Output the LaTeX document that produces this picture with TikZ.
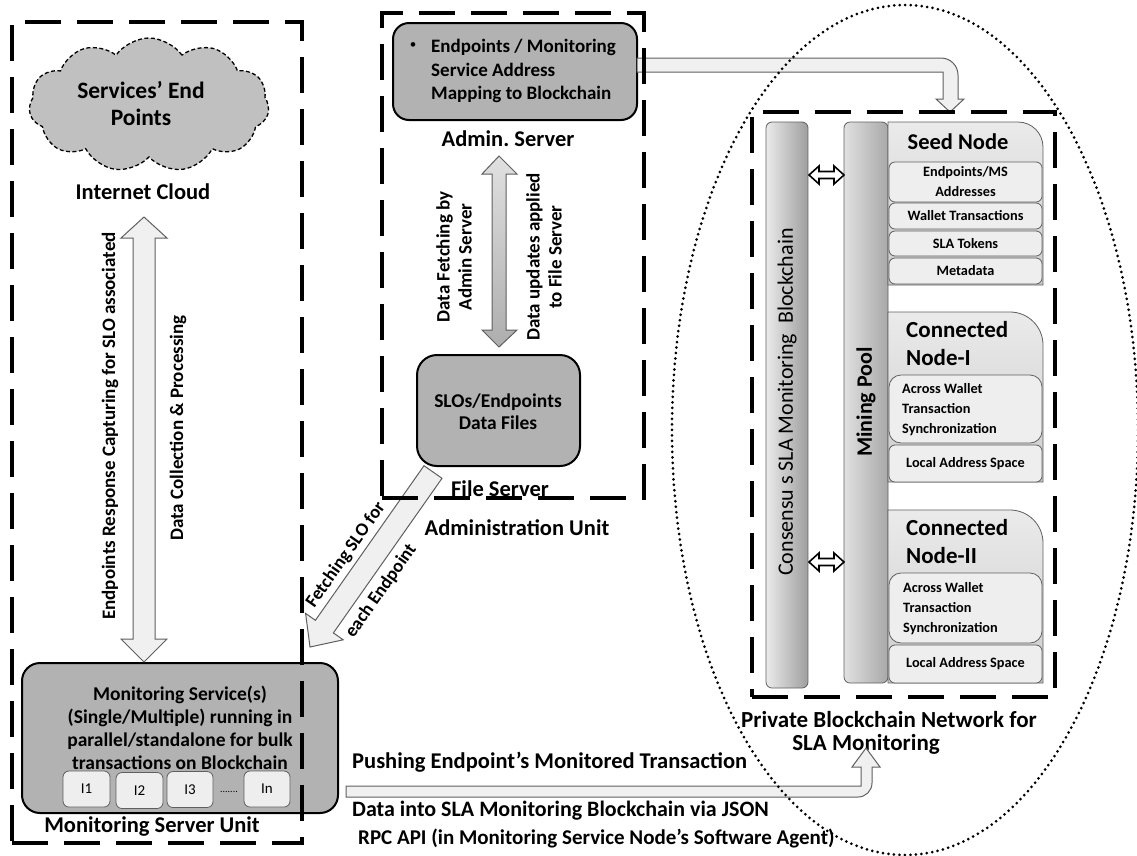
\documentclass[tikz,border=0pt]{standalone}
\usepackage{fontspec}
\setmainfont{Carlito}
\usetikzlibrary{shapes.symbols}
\definecolor{boxgray}{RGB}{178,178,178}
\definecolor{cloudgray}{RGB}{192,192,192}
\definecolor{subgray}{RGB}{238,238,238}
\definecolor{arrowfill}{RGB}{240,240,240}
\definecolor{arrowline}{RGB}{95,95,95}
\tikzset{
  unitbox/.style={draw=black, line width=3.5pt, dash pattern=on 36pt off 16pt, fill=none, inner sep=0pt},
  grayrbox/.style={draw=black, line width=2pt, fill=boxgray, rounded corners=18pt, inner sep=0pt},
  blockarrow/.style={draw=arrowline, fill=arrowfill, line width=1pt},
  subbox/.style={draw=arrowline, fill=subgray, line width=0.8pt, rounded corners=6pt, inner sep=0pt},
  panel/.style={draw=arrowline, line width=0.8pt, top color=white!92!black, bottom color=white!80!black},
  bar/.style={draw=arrowline, line width=0.8pt, rounded corners=6pt, inner sep=0pt},
  outarrow/.style={draw=black, fill=white, line width=1.6pt},
  dotellipse/.style={draw=black, line width=3pt, dash pattern=on 0pt off 5.5pt, line cap=round},
  t/.style={font=\bfseries\fontsize{#1}{#1}\selectfont, inner sep=0pt},
  tl/.style 2 args={font=\bfseries\fontsize{#1}{#2}\selectfont, inner sep=0pt, align=center},
}
\begin{document}
\begin{tikzpicture}[x=1pt,y=-1pt]
\path[use as bounding box] (0,0) rectangle (1137,855);

% ---------------- left unit ----------------
\node[cloud, cloud puffs=11, cloud puff arc=110, aspect=1.8, draw=black, line width=1.3pt,
      dash pattern=on 4pt off 2.5pt, fill=cloudgray, minimum width=240pt, minimum height=134pt, inner sep=0pt]
      (cloud) at (149,105) {};
\node[tl={23.5}{27}] (cloudtxt) at (141,104) {Services’ End\\Points};
\node[t=22.5] (inet) at (143,192) {Internet Cloud};

\node[grayrbox, minimum width=316pt, minimum height=150pt] (ms) at (180,738) {};
\node[tl={19.5}{23}] (mstxt) at (180,728) {Monitoring Service(s)\\(Single/Multiple) running in\\parallel/standalone for bulk\\transactions on Blockchain};
\node[subbox, minimum width=47pt, minimum height=36pt, font=\fontsize{15}{15}\selectfont] (i1) at (86.5,789) {I1};
\node[subbox, minimum width=47pt, minimum height=36pt, font=\fontsize{15}{15}\selectfont] (i2) at (139.5,790.5) {I2};
\node[subbox, minimum width=46pt, minimum height=36pt, font=\fontsize{15}{15}\selectfont] (i3) at (190,789.5) {I3};
\node[subbox, minimum width=46pt, minimum height=36pt, font=\fontsize{15}{15}\selectfont] (in) at (267,789) {In};
\node[font=\fontsize{10}{10}\selectfont, inner sep=0pt] (dots) at (229,792) {.......};
\node[t=22.5] (msu) at (152,826) {Monitoring Server Unit};

% left double arrow
\draw[blockarrow] (144,217) -- (167,238) -- (155,238) -- (155,639) -- (167,639) -- (144,662)
  -- (121,639) -- (133,639) -- (133,238) -- (121,238) -- cycle;
\node[t=19, rotate=90] (lbl1) at (110,426) {Endpoints Response Capturing for SLO associated};
\node[t=19, rotate=90] (lbl2) at (178,428) {Data Collection \& Processing};

% ---------------- administration unit ----------------
\node[grayrbox, rounded corners=16pt, minimum width=244pt, minimum height=97pt] (admin) at (515,71.5) {};
\node[font=\fontsize{13}{13}\selectfont, inner sep=0pt] (bul) at (413,46) {•};
\node[tl={19}{23.5}, align=left, anchor=west] (admintxt) at (431,71) {Endpoints / Monitoring\\Service Address\\Mapping to Blockchain};
\node[t=22.5] (adminlbl) at (508,139) {Admin.\ Server};

\path[draw=arrowline, line width=1pt, top color=white!88!black, bottom color=white!68!black]
  (499,156) -- (517,174) -- (506,174) -- (506,330) -- (517,330) -- (499,347)
  -- (482,330) -- (492,330) -- (492,174) -- (482,174) -- cycle;
\node[tl={19}{22}, rotate=90] (fetchlbl) at (454,257) {Data Fetching by\\Admin Server};
\node[tl={19}{22}, rotate=90] (updlbl) at (544,257) {Data updates applied\\to File Server};

\node[grayrbox, rounded corners=20pt, minimum width=163pt, minimum height=111pt] (slo) at (498.5,410.5) {};
\node[tl={19.5}{22}] (slotxt) at (498,412) {SLOs/Endpoints\\Data Files};
\node[t=22.5] (fs) at (500,489) {File Server};
\node[t=22.5] (adu) at (517,528) {Administration Unit};

% diagonal arrow
\draw[blockarrow] (424,465.7) -- (315.4,620.3) -- (305.6,613.4) -- (310,647) -- (343.2,639.8)
  -- (333.4,632.9) -- (442,478.3) -- cycle;
\node[t=18.5, rotate=54.9] (fetchslo) at (346,555) {Fetching SLO for};
\node[t=18.5, rotate=54.9] (eachep) at (381,591) {each Endpoint};

% ---------------- blockchain network ----------------
\node[bar, left color=white!92!black, right color=white!62!black, minimum width=42pt, minimum height=566pt] (cons) at (787,405) {};
\node[font=\fontsize{22}{22}\selectfont, inner sep=0pt, rotate=90] (constxt) at (787,402) {Consensu s SLA Monitoring\hspace{5pt} Blockchain};
\node[bar, left color=white!88!black, right color=white!66!black, minimum width=44pt, minimum height=561pt] (pool) at (866,402.5) {};
\node[t=22, rotate=90] (pooltxt) at (866,402) {Mining Pool};

\draw[outarrow] (809,175) -- (819,166) -- (819,171.5) -- (834,171.5) -- (834,166) -- (844,175)
  -- (834,184) -- (834,178.5) -- (819,178.5) -- (819,184) -- cycle;
\draw[outarrow] (809,562) -- (819,553) -- (819,558.5) -- (834,558.5) -- (834,553) -- (844,562)
  -- (834,571) -- (834,565.5) -- (819,565.5) -- (819,571) -- cycle;

% seed node panel
\path[panel] (888,285) -- (888,122) -- (1018,122) arc[start angle=-90,end angle=0,radius=25] -- (1043,285) -- cycle;
\node[t=22.5] (seed) at (958,142) {Seed Node};
\node[subbox, minimum width=153pt, minimum height=40pt] (epms) at (965.5,182) {};
\node[tl={14.3}{20}] at (965.5,182) {Endpoints/MS\\Addresses};
\node[subbox, minimum width=153pt, minimum height=26pt, font=\bfseries\fontsize{14.3}{14.3}\selectfont] (wallet) at (965.5,216) {Wallet Transactions};
\node[subbox, minimum width=153pt, minimum height=25pt, font=\bfseries\fontsize{14.3}{14.3}\selectfont] (tokens) at (965.5,243.5) {SLA Tokens};
\node[subbox, minimum width=153pt, minimum height=26pt, font=\bfseries\fontsize{14.3}{14.3}\selectfont] (meta) at (965.5,271) {Metadata};

% connected node I
\path[panel] (888,482) -- (888,312) -- (1010,312) arc[start angle=-90,end angle=0,radius=33] -- (1043,482) -- cycle;
\node[tl={23}{28}, align=left, anchor=west] (cn1) at (906,344) {Connected\\Node-I};
\node[subbox, rounded corners=12pt, minimum width=153pt, minimum height=68pt] (aw1) at (965.5,409) {};
\node[tl={14.3}{20}, align=left, anchor=west] at (902,410) {Across Wallet\\Transaction\\Synchronization};
\node[subbox, minimum width=153pt, minimum height=37pt, font=\bfseries\fontsize{14.3}{14.3}\selectfont] (las1) at (965.5,463.5) {Local Address Space};

% connected node II
\path[panel] (888,683) -- (888,510) -- (1010,510) arc[start angle=-90,end angle=0,radius=33] -- (1043,683) -- cycle;
\node[tl={23}{28}, align=left, anchor=west] (cn2) at (906,542) {Connected\\Node-II};
\node[subbox, rounded corners=12pt, minimum width=153pt, minimum height=70pt] (aw2) at (965.5,608) {};
\node[tl={14.3}{20}, align=left, anchor=west] at (903,609) {Across Wallet\\Transaction\\Synchronization};
\node[subbox, minimum width=153pt, minimum height=38pt, font=\bfseries\fontsize{14.3}{14.3}\selectfont] (las2) at (965.5,664) {Local Address Space};

\node[t=23] (pbn1) at (889,720) {Private Blockchain Network for};
\node[t=23] (pbn2) at (866,744) {SLA Monitoring};

% ---------------- bent arrows ----------------
\draw[blockarrow] (637,58) -- (941,58) arc[start angle=-90,end angle=0,radius=17] -- (958,99) -- (964,99)
  -- (950,112) -- (936,99) -- (943,99) -- (943,72) -- (637,72) -- cycle;
\draw[blockarrow] (346,786) -- (861,786) -- (861,767) -- (852,767) -- (866,748) -- (880,767) -- (872,767)
  -- (872,783) arc[start angle=0,end angle=90,radius=14] -- (346,797) -- cycle;

\node[t=22.5, anchor=west] (push1) at (352,762) {Pushing Endpoint’s Monitored Transaction};
\node[t=22, anchor=west] (push2) at (352,811) {Data into SLA Monitoring Blockchain via JSON};
\node[t=21, anchor=west] (push3) at (358,838) {RPC API (in Monitoring Service Node’s Software Agent)};

% ---------------- unit frames ----------------
\node[unitbox, minimum width=290pt, minimum height=821pt] (leftunit) at (157,432.5) {};
\node[unitbox, minimum width=262pt, minimum height=485pt] (midunit) at (513,255.5) {};
\node[unitbox, minimum width=303pt, minimum height=585pt] (rightunit) at (903.5,404.5) {};
\draw[dotellipse] (905,430) ellipse [x radius=233, y radius=425];
\end{tikzpicture}
\end{document}
